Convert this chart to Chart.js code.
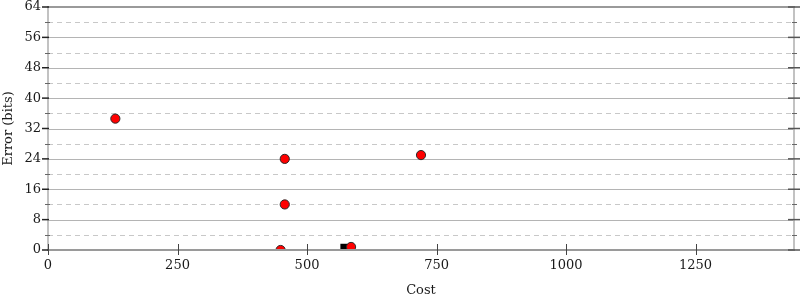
<!DOCTYPE html>
<html>
<head>
<meta charset="utf-8">
<script src="https://cdn.jsdelivr.net/npm/chart.js@4/dist/chart.umd.min.js"></script>
<style>
  html, body { margin: 0; padding: 0; background: #ffffff; }
  #wrap { width: 800px; height: 300px; }
</style>
</head>
<body>
<div id="wrap"><canvas id="c" width="800" height="300"></canvas></div>
<script>
// ---- data ----
const costValues  = [130, 457, 457, 449, 585, 720];
const errorValues = [34.6, 24, 12, 0, 0.8, 25];
const refCost  = [572];
const refError = [0.6];

const xTickValues = [0, 250, 500, 750, 1000, 1250];
const yTickValues = [0, 8, 16, 24, 32, 40, 48, 56, 64];
const yMinorValues = [4, 12, 20, 28, 36, 44, 52, 60];
const xAxisTitle = 'Cost';
const yAxisTitle = 'Error (bits)';

const FONT = "'DejaVu Serif', 'Liberation Serif', serif";

const toPoints = (xs, ys) => xs.map((x, i) => ({ x: x, y: ys[i] }));

const crisp = v => Math.round(v) + 0.5;

const framePlugin = {
  id: 'frame',
  beforeDatasetsDraw(chart) {
    const { ctx, chartArea: a, scales: { x, y } } = chart;
    ctx.save();
    // dashed minor grid
    ctx.lineWidth = 1;
    ctx.strokeStyle = '#c8c8c8';
    ctx.setLineDash([5, 4]);
    yMinorValues.forEach(v => {
      const py = crisp(y.getPixelForValue(v));
      ctx.beginPath(); ctx.moveTo(a.left, py); ctx.lineTo(a.right, py); ctx.stroke();
    });
    ctx.setLineDash([]);
    // solid major grid
    ctx.strokeStyle = '#b4b4b4';
    yTickValues.forEach(v => {
      if (v === 0 || v === 64) return;
      const py = crisp(y.getPixelForValue(v));
      ctx.beginPath(); ctx.moveTo(a.left, py); ctx.lineTo(a.right, py); ctx.stroke();
    });
    ctx.restore();
  },
  afterDatasetsDraw(chart) {
    const { ctx, chartArea: a, scales: { x, y } } = chart;
    ctx.save();
    // vertical frame lines
    ctx.lineWidth = 2;
    ctx.strokeStyle = '#c2c2c2';
    ctx.beginPath(); ctx.moveTo(a.left, a.top); ctx.lineTo(a.left, a.bottom); ctx.stroke();
    ctx.beginPath(); ctx.moveTo(a.right, a.top); ctx.lineTo(a.right, a.bottom); ctx.stroke();
    // top & bottom lines
    ctx.strokeStyle = '#9a9a9a';
    const yTop = y.getPixelForValue(64);
    const yBot = y.getPixelForValue(0);
    ctx.beginPath(); ctx.moveTo(a.left - 1, yTop); ctx.lineTo(a.right + 1, yTop); ctx.stroke();
    ctx.beginPath(); ctx.moveTo(a.left - 1, yBot); ctx.lineTo(a.right + 1, yBot); ctx.stroke();
    // y major ticks
    ctx.lineWidth = 1.5;
    ctx.strokeStyle = '#222222';
    yTickValues.forEach(v => {
      const py = y.getPixelForValue(v);
      ctx.beginPath(); ctx.moveTo(a.left - 6, py); ctx.lineTo(a.left + 1, py); ctx.stroke();
    });
    ctx.strokeStyle = '#555555';
    yTickValues.forEach(v => {
      const py = y.getPixelForValue(v);
      ctx.beginPath(); ctx.moveTo(a.right - 6, py); ctx.lineTo(a.right + 6, py); ctx.stroke();
    });
    // y minor ticks
    ctx.lineWidth = 1;
    ctx.strokeStyle = '#666666';
    yMinorValues.forEach(v => {
      const py = crisp(y.getPixelForValue(v));
      ctx.beginPath(); ctx.moveTo(a.left - 3, py); ctx.lineTo(a.left + 2, py); ctx.stroke();
      ctx.beginPath(); ctx.moveTo(a.right - 2, py); ctx.lineTo(a.right + 3, py); ctx.stroke();
    });
    // x ticks
    ctx.strokeStyle = '#444444';
    ctx.lineWidth = 1;
    xTickValues.forEach(v => {
      const px = crisp(x.getPixelForValue(v));
      ctx.beginPath(); ctx.moveTo(px, yBot - 6); ctx.lineTo(px, yBot + 5); ctx.stroke();
    });
    ctx.restore();
  }
};

new Chart(document.getElementById('c'), {
  type: 'scatter',
  data: {
    datasets: [
      {
        label: 'points',
        data: toPoints(costValues, errorValues),
        pointStyle: 'circle',
        pointRadius: 4.6,
        pointHoverRadius: 4.6,
        backgroundColor: '#ff0000',
        borderColor: '#2a2a2a',
        borderWidth: 1,
        clip: 0
      },
      {
        label: 'reference',
        data: toPoints(refCost, refError),
        pointStyle: 'rect',
        pointRadius: 5.6,
        pointHoverRadius: 5.6,
        backgroundColor: '#000000',
        borderColor: '#000000',
        borderWidth: 0,
        clip: 0
      }
    ]
  },
  options: {
    responsive: false,
    animation: false,
    events: [],
    layout: { padding: { left: 0, right: 6, top: 7, bottom: 0 } },
    plugins: { legend: { display: false }, tooltip: { enabled: false } },
    scales: {
      x: {
        type: 'linear',
        min: 0,
        max: 1440,
        afterBuildTicks: s => { s.ticks = xTickValues.map(v => ({ value: v })); },
        afterFit: s => { s.height = 50; s.paddingLeft = 0; s.paddingRight = 0; },
        grid: { display: false, drawTicks: false },
        border: { display: false },
        ticks: {
          padding: 8,
          color: '#1a1a1a',
          font: { family: FONT, size: 13 },
          maxRotation: 0,
          autoSkip: false,
          callback: v => String(v)
        },
        title: {
          display: true,
          text: xAxisTitle,
          color: '#1a1a1a',
          font: { family: FONT, size: 13 },
          padding: { top: 0, bottom: 2 }
        }
      },
      y: {
        type: 'linear',
        min: 0,
        max: 64,
        afterBuildTicks: s => { s.ticks = yTickValues.map(v => ({ value: v })); },
        afterFit: s => { s.width = 48; s.paddingTop = 0; s.paddingBottom = 0; },
        grid: { display: false, drawTicks: false },
        border: { display: false },
        ticks: {
          padding: 7,
          color: '#1a1a1a',
          font: { family: FONT, size: 13 },
          autoSkip: false,
          callback: v => String(v)
        },
        title: {
          display: true,
          text: yAxisTitle,
          color: '#1a1a1a',
          font: { family: FONT, size: 13 },
          padding: { top: 1, bottom: 0 }
        }
      }
    }
  },
  plugins: [framePlugin]
});
</script>
</body>
</html>
